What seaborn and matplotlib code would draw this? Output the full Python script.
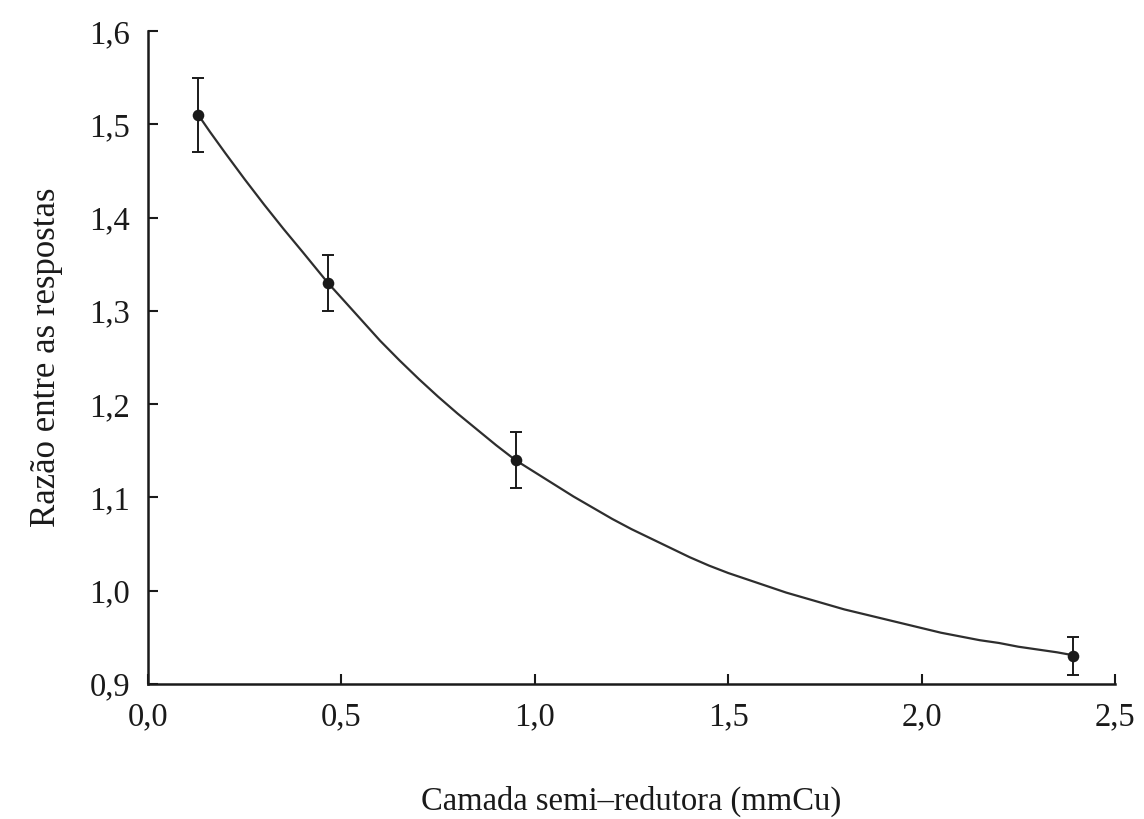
import matplotlib
matplotlib.use("Agg")
import matplotlib.pyplot as plt
import seaborn as sns
import pandas as pd

# Measured points with uncertainties
hvl_points = [0.13, 0.465, 0.95, 2.39]
ratio_points = [1.51, 1.33, 1.14, 0.93]
ratio_err = [0.04, 0.03, 0.03, 0.02]

# Fitted curve, sampled along the half-value layer axis
curve_x = [0.13, 0.16, 0.2, 0.25, 0.3, 0.35, 0.4, 0.465, 0.5, 0.55, 0.6, 0.65,
           0.7, 0.75, 0.8, 0.85, 0.9, 0.95, 1.0, 1.05, 1.1, 1.15, 1.2, 1.25,
           1.3, 1.35, 1.4, 1.45, 1.5, 1.55, 1.6, 1.65, 1.7, 1.75, 1.8, 1.85,
           1.9, 1.95, 2.0, 2.05, 2.1, 2.15, 2.2, 2.25, 2.3, 2.35, 2.39]
curve_y = [1.510, 1.492, 1.469, 1.441, 1.414, 1.388, 1.363, 1.330, 1.314, 1.291,
           1.268, 1.247, 1.227, 1.208, 1.190, 1.173, 1.156, 1.140, 1.127, 1.114,
           1.101, 1.089, 1.077, 1.066, 1.056, 1.046, 1.036, 1.027, 1.019, 1.012,
           1.005, 0.998, 0.992, 0.986, 0.980, 0.975, 0.970, 0.965, 0.960, 0.955,
           0.951, 0.947, 0.944, 0.940, 0.937, 0.934, 0.931]

x_ticks = [0.0, 0.5, 1.0, 1.5, 2.0, 2.5]
x_tick_labels = ["0,0", "0,5", "1,0", "1,5", "2,0", "2,5"]
y_ticks = [0.9, 1.0, 1.1, 1.2, 1.3, 1.4, 1.5, 1.6]
y_tick_labels = ["0,9", "1,0", "1,1", "1,2", "1,3", "1,4", "1,5", "1,6"]

sns.set_theme(style="ticks")
plt.rcParams["font.family"] = ["Liberation Serif", "DejaVu Serif"]

fig = plt.figure(figsize=(11.44, 8.19), dpi=100)
ax = fig.add_axes([0.1294, 0.1648, 0.9747 - 0.1294, 0.9621 - 0.1648])

ink = "#1a1a1a"
curve = pd.DataFrame({"x": curve_x, "y": curve_y})
sns.lineplot(data=curve, x="x", y="y", ax=ax, color="#2e2e2e", linewidth=1.6)

ax.errorbar(hvl_points, ratio_points, yerr=ratio_err, fmt="none",
            ecolor=ink, elinewidth=1.4, capsize=4.5, capthick=1.4, zorder=3)
pts = pd.DataFrame({"x": hvl_points, "y": ratio_points})
sns.scatterplot(data=pts, x="x", y="y", ax=ax, color=ink, s=70,
                edgecolor=ink, linewidth=0, zorder=4)

ax.set_xlim(0.0, 2.5)
ax.set_ylim(0.9, 1.6)
ax.set_xticks(x_ticks)
ax.set_xticklabels(x_tick_labels)
ax.set_yticks(y_ticks)
ax.set_yticklabels(y_tick_labels)

ax.tick_params(axis="both", direction="in", length=7, width=1.5,
               colors=ink, labelsize=23.5)
ax.tick_params(axis="x", pad=13)
ax.tick_params(axis="y", pad=13)

sns.despine(ax=ax)
for side in ("left", "bottom"):
    ax.spines[side].set_linewidth(1.8)
    ax.spines[side].set_color(ink)

ax.set_xlabel("Camada semi\u2013redutora (mmCu)", fontsize=23.5, color=ink, labelpad=38)
ax.set_ylabel("Razão entre as respostas", fontsize=25, color=ink, labelpad=19)

fig.savefig("out.png", dpi=100, facecolor="white")
